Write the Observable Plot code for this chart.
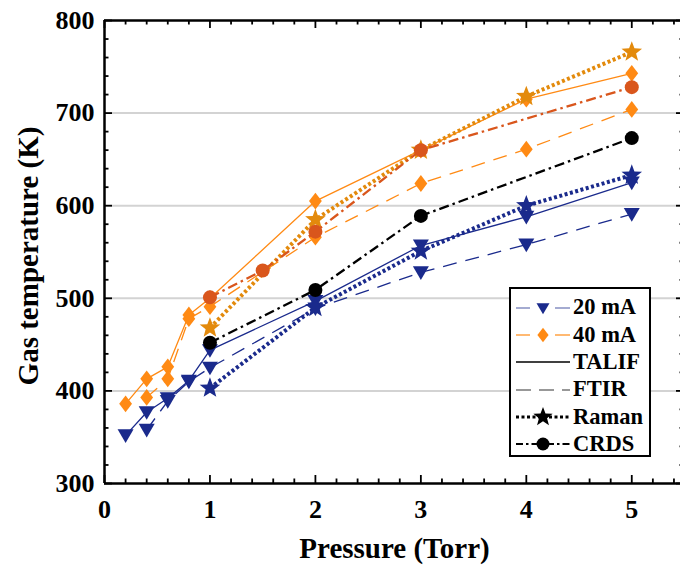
<!DOCTYPE html>
<html>
<head>
<meta charset="utf-8">
<script src="https://cdn.jsdelivr.net/npm/d3@7"></script>
<script src="https://cdn.jsdelivr.net/npm/@observablehq/plot@0.6"></script>
<style>
  html, body { margin: 0; padding: 0; background: white; }
  #wrap { position: relative; width: 680px; height: 565px; overflow: hidden; }
  #legend { position: absolute; left: 509px; top: 287px; width: 142px; height: 170px;
    border: 2px solid black; background: white; box-sizing: border-box; padding-top: 5px; }
  .row { display: flex; align-items: center; height: 27.3px; }
  .row svg { margin-left: 5px; flex: none; }
  .row span { font-family: 'Liberation Serif', 'Times New Roman', serif; font-weight: bold;
    font-size: 22.5px; margin-left: 3px; line-height: 1; }
</style>
</head>
<body>
<div id="wrap"></div>
<script>
// ---- data ----
const p20Talif = [0.2, 0.4, 0.6, 0.8, 1, 2, 3, 4, 5];
const t20Talif = [352, 377, 392, 411, 444, 497, 557, 588, 625];
const p20Ftir = [0.4, 0.6, 0.8, 1, 2, 3, 4, 5];
const t20Ftir = [358, 389, 410, 425, 489, 528, 558, 591];
const p20Raman = [1, 2, 3, 4, 5];
const t20Raman = [403, 490, 551, 600, 633];
const p20Crds = [1, 2, 3, 5];
const t20Crds = [452, 509, 589, 673];

const p40Talif = [0.2, 0.4, 0.6, 0.8, 1, 2, 3, 4, 5];
const t40Talif = [386, 413, 426, 482, 500, 605, 660, 715, 743];
const p40Ftir = [0.4, 0.6, 0.8, 1, 2, 3, 4, 5];
const t40Ftir = [393, 413, 478, 491, 566, 624, 661, 704];
const p40Raman = [1, 2, 3, 4, 5];
const t40Raman = [468, 585, 660, 718, 766];
const p40Crds = [1, 1.5, 2, 3, 5];
const t40Crds = [501, 530, 572, 660, 728];

const xTicks = [0, 1, 2, 3, 4, 5];
const yTicks = [300, 400, 500, 600, 700, 800];
const gridY = [400, 500, 600, 700];
const legendLabels = ["20 mA", "40 mA", "TALIF", "FTIR", "Raman", "CRDS"];
const xTitle = "Pressure (Torr)";
const yTitle = "Gas temperature (K)";

// ---- styles ----
const FONT = "'Liberation Serif', 'Times New Roman', serif";
const NAVY = "#1a2a8c";
const ORANGE = "#ff8a14";
const ORANGE_STAR = "#e38a0c";
const ORANGE_RED = "#d9561c";

const triDown = { draw(ctx, size) { const r = Math.sqrt(size / Math.PI);
  ctx.moveTo(-r, -0.75 * r); ctx.lineTo(r, -0.75 * r); ctx.lineTo(0, 0.95 * r); ctx.closePath(); } };
const diamond = { draw(ctx, size) { const r = Math.sqrt(size / Math.PI);
  ctx.moveTo(0, -1.05 * r); ctx.lineTo(0.8 * r, 0); ctx.lineTo(0, 1.05 * r); ctx.lineTo(-0.8 * r, 0); ctx.closePath(); } };
const star = { draw(ctx, size) { const r = Math.sqrt(size / Math.PI) * 1.35; const ri = r * 0.42;
  for (let i = 0; i < 10; i++) { const a = -Math.PI / 2 + i * Math.PI / 5; const rr = i % 2 ? ri : r;
    if (i === 0) ctx.moveTo(rr * Math.cos(a), rr * Math.sin(a)); else ctx.lineTo(rr * Math.cos(a), rr * Math.sin(a)); }
  ctx.closePath(); } };
const circle = { draw(ctx, size) { const r = Math.sqrt(size / Math.PI); ctx.moveTo(r, 0); ctx.arc(0, 0, r, 0, 2 * Math.PI); } };

const DASH = "14,9", DOT = "3,2.5", DASHDOT = "10,4,2.5,4";

const series = [
  { p: p20Talif, t: t20Talif, color: NAVY, dash: null, w: 1.3, sym: triDown, r: 8 },
  { p: p40Talif, t: t40Talif, color: ORANGE, dash: null, w: 1.3, sym: diamond, r: 8 },
  { p: p20Ftir, t: t20Ftir, color: NAVY, dash: DASH, w: 1.3, sym: triDown, r: 8 },
  { p: p40Ftir, t: t40Ftir, color: ORANGE, dash: DASH, w: 1.3, sym: diamond, r: 8 },
  { p: p20Raman, t: t20Raman, color: NAVY, dash: DOT, w: 4, sym: star, r: 8 },
  { p: p40Raman, t: t40Raman, color: ORANGE_STAR, dash: DOT, w: 4, sym: star, r: 8 },
  { p: p20Crds, t: t20Crds, color: "black", dash: DASHDOT, w: 2.3, sym: circle, r: 7 },
  { p: p40Crds, t: t40Crds, color: ORANGE_RED, dash: DASHDOT, w: 2.3, sym: circle, r: 7 }
];

const ML = 104, MT = 20, MB = 82, W = 680, H = 565, MR = -4;
const innerW = W - ML - MR, innerH = H - MT - MB;
const xMinor = d3.range(0, 5.5001, 0.2).map(v => +v.toFixed(1)).filter(v => Math.abs(v - Math.round(v)) > 1e-6);
const yMinor = d3.range(300, 801, 20).filter(v => v % 100 !== 0);
const xMajor = [0, 1, 2, 3, 4, 5];

const marks = [
  Plot.ruleY(gridY, { stroke: "#d3d3d3", strokeWidth: 2 })
];
for (const s of series) {
  const data = s.p.map((x, i) => ({ x, y: s.t[i] }));
  marks.push(Plot.line(data, { x: "x", y: "y", stroke: s.color, strokeWidth: s.w, strokeDasharray: s.dash,
    strokeLinecap: "butt", strokeLinejoin: "miter" }));
  marks.push(Plot.dot(data, { x: "x", y: "y", fill: s.color, stroke: "none", symbol: s.sym, r: s.r }));
}
const TK = { stroke: "black", strokeWidth: 1.8 };
marks.push(
  Plot.tickX(xMajor, { x: d => d, ...TK, insetTop: innerH - 8 }),
  Plot.tickX(xMinor, { x: d => d, ...TK, insetTop: innerH - 4.5 }),
  Plot.tickX(xMajor, { x: d => d, ...TK, insetBottom: innerH - 8 }),
  Plot.tickX(xMinor, { x: d => d, ...TK, insetBottom: innerH - 4.5 }),
  Plot.tickY(yTicks, { y: d => d, ...TK, insetRight: innerW - 8 }),
  Plot.tickY(yMinor, { y: d => d, ...TK, insetRight: innerW - 4.5 }),
  Plot.tickY(yTicks, { y: d => d, ...TK, insetLeft: innerW - 8 }),
  Plot.tickY(yMinor, { y: d => d, ...TK, insetLeft: innerW - 4.5 }),
  Plot.ruleY([300, 800], { stroke: "black", strokeWidth: 2.5 }),
  Plot.ruleX([0, 5.5], { stroke: "black", strokeWidth: 2.5 }),
  Plot.text([xTitle], { frameAnchor: "bottom", dy: 65, textAnchor: "middle", lineAnchor: "middle",
    fontSize: 29, fontWeight: "bold", fontFamily: FONT, fill: "black" }),
  Plot.text([yTitle], { frameAnchor: "left", dx: -76, dy: 4, rotate: -90, textAnchor: "middle", lineAnchor: "middle",
    fontSize: 29, fontWeight: "bold", fontFamily: FONT, fill: "black" })
);

const chart = Plot.plot({
  width: W, height: H,
  marginLeft: ML, marginRight: MR, marginTop: MT, marginBottom: MB,
  style: { fontFamily: FONT, fontSize: "26px", fontWeight: "bold", color: "black", background: "white", overflow: "hidden" },
  x: { domain: [0, 5.5], ticks: xTicks, tickSize: 0, tickPadding: 16, tickFormat: d => String(d), label: null },
  y: { domain: [300, 800], ticks: yTicks, tickSize: 0, tickPadding: 10, tickFormat: d => String(d), label: null },
  marks
});
const wrap = document.getElementById("wrap");
wrap.appendChild(chart);

// ---- legend ----
const legendStyle = [
  { color: NAVY, line: NAVY, dash: "split", w: 1.2, sym: triDown, r: 6.5, opacity: 0.65 },
  { color: ORANGE, line: ORANGE, dash: "split", w: 1.2, sym: diamond, r: 7, opacity: 1 },
  { color: null, line: "black", dash: null, w: 1.3, sym: null, opacity: 1 },
  { color: null, line: "#777", dash: "15,8", w: 1.3, sym: null, opacity: 1 },
  { color: "black", line: "black", dash: "3,2.5", w: 3, sym: star, r: 7.5, opacity: 1 },
  { color: "black", line: "black", dash: "7,3,2.5,3", w: 2, sym: circle, r: 6.5, opacity: 1 }
];
const legend = document.createElement("div");
legend.id = "legend";
legendLabels.forEach((label, i) => {
  const st = legendStyle[i];
  const row = document.createElement("div");
  row.className = "row";
  const svg = d3.create("svg").attr("width", 54).attr("height", 26);
  if (st.dash === "split") {
    svg.append("line").attr("x1", 0).attr("x2", 14).attr("y1", 13).attr("y2", 13)
      .attr("stroke", st.line).attr("stroke-width", st.w).attr("opacity", st.opacity);
    svg.append("line").attr("x1", 39).attr("x2", 54).attr("y1", 13).attr("y2", 13)
      .attr("stroke", st.line).attr("stroke-width", st.w).attr("opacity", st.opacity);
  } else {
    svg.append("line").attr("x1", 0).attr("x2", 54).attr("y1", 13).attr("y2", 13)
      .attr("stroke", st.line).attr("stroke-width", st.w).attr("stroke-dasharray", st.dash);
  }
  if (st.sym) {
    const p = d3.path();
    st.sym.draw(p, Math.PI * st.r * st.r);
    svg.append("path").attr("d", p.toString()).attr("transform", "translate(27,13)").attr("fill", st.color);
  }
  row.appendChild(svg.node());
  const span = document.createElement("span");
  span.textContent = label;
  row.appendChild(span);
  legend.appendChild(row);
});
wrap.appendChild(legend);
</script>
</body>
</html>
